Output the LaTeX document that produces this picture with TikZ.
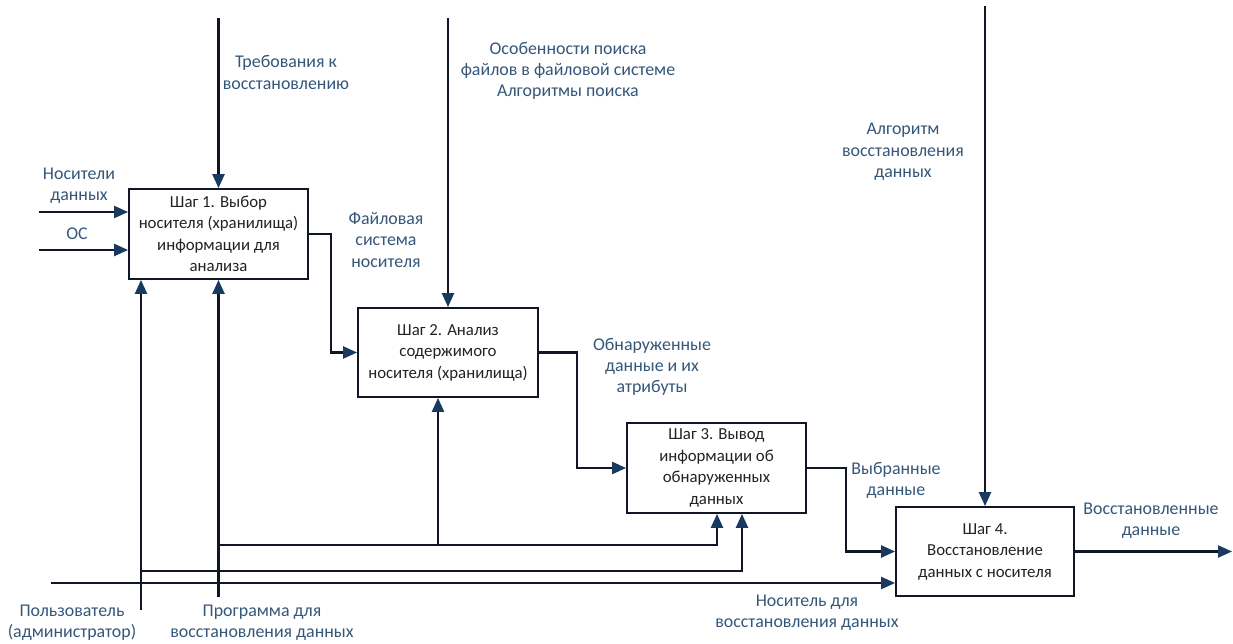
\documentclass[tikz,border=0pt]{standalone}
\usepackage{fontspec}
\setmainfont{Carlito}
\usetikzlibrary{arrows.meta}
\definecolor{linec}{HTML}{101626}
\definecolor{arrowc}{HTML}{173A5E}
\definecolor{labelc}{HTML}{34577A}
\definecolor{boxtext}{HTML}{222222}
\tikzset{
  box/.style={draw=linec, line width=1.8pt, fill=white, align=center, text=boxtext,
    font=\fontsize{16.8}{21.5}\selectfont, inner sep=0pt},
  lbl/.style={align=center, text=labelc, font=\fontsize{17.9}{21.3}\selectfont, inner sep=0pt},
  conn/.style={draw=linec, line width=2.3pt},
  arr/.style={conn, -{Triangle[length=14pt,width=12pt,color=arrowc]}},
}
\begin{document}
\begin{tikzpicture}[x=1pt,y=-1pt]
\useasboundingbox (0,0) rectangle (1233,644);
\fill[white] (0,0) rectangle (1233,644);

% boxes
\node[box, minimum width=179pt, minimum height=90pt] (b1) at (218.5,234)
  {Шаг 1. Выбор\\носителя (хранилища)\\информации для\\анализа};
\node[box, minimum width=180pt, minimum height=89pt] (b2) at (448,352.5)
  {Шаг 2. Анализ\\содержимого\\носителя (хранилища)};
\node[box, minimum width=179pt, minimum height=90pt] (b3) at (716.5,468)
  {Шаг 3. Вывод\\информации об\\обнаруженных\\данных};
\node[box, minimum width=178pt, minimum height=89pt] (b4) at (985,551.5)
  {Шаг 4.\\Восстановление\\данных с носителя};

% free ends
\coordinate (in1) at (39,212);
\coordinate (in2) at (39,250);
\coordinate (top1) at (218.5,18);
\coordinate (top2) at (448,18);
\coordinate (top4) at (985,6);
\coordinate (out4) at (1232,551.5);
\coordinate (user) at (141,610);
\coordinate (prog) at (218.5,597);
\coordinate (medium) at (51,583);
\coordinate (j1) at (218.5,545);
\coordinate (j2) at (141,571);
\coordinate (j3) at (438,545);

% inputs
\draw[arr] (in1) -- (in1 -| b1.west);
\draw[arr] (in2) -- (in2 -| b1.west);
% controls
\draw[arr] (top1) -- (b1.north);
\draw[arr] (top2) -- (b2.north);
\draw[arr] (top4) -- (b4.north);
% flow between boxes
\draw[arr] (b1.east) -- ++(22,0) |- (b2.west);
\draw[arr] (b2.east) -- ++(38,0) |- (b3.west);
\draw[arr] (b3.east) -- ++(39,0) |- (b4.west);
\draw[arr] (b4.east) -- (out4);
% mechanisms
\draw[arr] (user) -- (user |- b1.south);
\draw[arr] (prog) -- (b1.south);
\draw[arr] (j1) -| ([xshift=0.5pt]b3.south);
\draw[arr] (j3) -- (j3 |- b2.south);
\draw[arr] (j2) -| ([xshift=25.5pt]b3.south);
\draw[arr] (medium) -- (medium -| b4.west);

% labels
\node[lbl] (l1) at (286,72.5) {Требования к\\восстановлению};
\node[lbl] (l2) at (568,71) {Особенности поиска\\файлов в файловой системе\\Алгоритмы поиска};
\node[lbl] (l3) at (79,185.5) {Носители\\данных};
\node[lbl] (l4) at (77,234) {ОС};
\node[lbl] (l5) at (386,240) {Файловая\\система\\носителя};
\node[lbl] (l6) at (903,152) {Алгоритм\\восстановления\\данных};
\node[lbl] (l7) at (652,367) {Обнаруженные\\данные и их\\атрибуты};
\node[lbl] (l8) at (896,480.5) {Выбранные\\данные};
\node[lbl] (l9) at (1151,521) {Восстановленные\\данные};
\node[lbl] (l10) at (807,613) {Носитель для\\восстановления данных};
\node[lbl] (l11) at (72,623) {Пользователь\\(администратор)};
\node[lbl] (l12) at (262,623) {Программа для\\восстановления данных};
\end{tikzpicture}
\end{document}
